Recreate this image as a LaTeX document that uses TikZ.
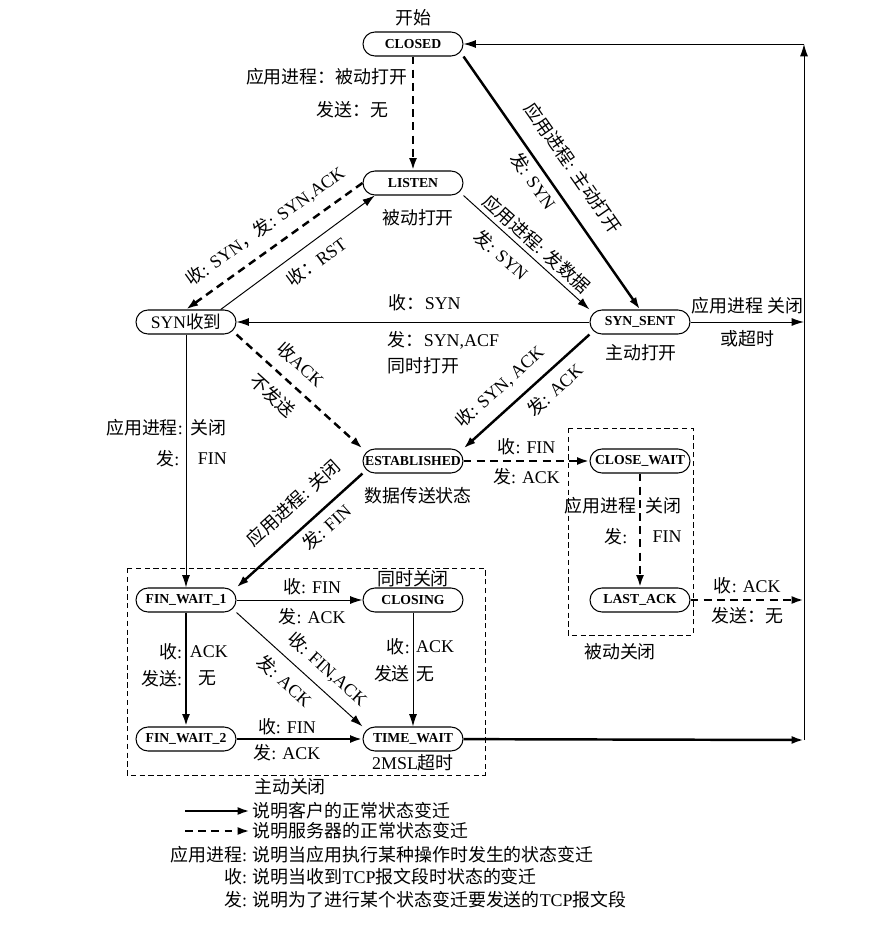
\documentclass[tikz,border=0pt]{standalone}
\usepackage{fontspec}
\setmainfont{Liberation Serif}
\newfontfamily\zhfont{Noto Sans CJK SC}
\newcommand{\zh}[1]{{\zhfont #1}}
\usetikzlibrary{positioning, arrows.meta}

\tikzset{
  statebox/.style={draw, line width=0.6pt, rounded corners=0.24cm, minimum width=2cm,
    minimum height=0.48cm, inner xsep=1pt, inner ysep=0pt,
    font=\fontsize{7.8}{9}\selectfont\bfseries},
  lbl/.style={font=\fontsize{10.2}{12}\selectfont, inner sep=1.5pt},
  tip/.style={-{Latex[length=7pt,width=4.5pt]}},
  client/.style={tip, line width=1.4pt},
  server/.style={client, dash pattern=on 4.5pt off 3pt},
  plain/.style={tip, line width=0.55pt},
  zone/.style={draw, line width=0.5pt, dash pattern=on 3pt off 2pt},
}

\begin{document}
\begin{tikzpicture}[on grid, node distance=2.78cm and 4.54cm]
\useasboundingbox (0,0) rectangle (17.5,-18.56);

% states
\node[statebox] (closed) at (8.26,-0.88) {CLOSED};
\node[statebox, below=of closed] (listen) {LISTEN};
\node[statebox, below left=of listen] (synrcvd) {\mdseries\fontsize{10}{12}\selectfont SYN\zh{收到}};
\node[statebox, below right=of listen] (synsent) {SYN\_SENT};
\node[statebox, below right=of synrcvd] (established) {ESTABLISHED};
\node[statebox, right=of established] (closewait) {CLOSE\_WAIT};
\node[statebox, below=of closewait] (lastack) {LAST\_ACK};
\node[statebox, below left=of established] (finwait1) {FIN\_WAIT\_1};
\node[statebox, right=of finwait1] (closing) {CLOSING};
\node[statebox, below=of finwait1] (finwait2) {FIN\_WAIT\_2};
\node[statebox, right=of finwait2] (timewait) {TIME\_WAIT};

\coordinate (rtop) at (16.08,-0.88);
\coordinate (rbot) at (16.08,-14.8);

% notes beside the states
\node[lbl] (start) at (8.26,-0.36) {\zh{开始}};
\node[lbl] (passopen) at (8.36,-4.36) {\zh{被动打开}};
\node[lbl] (actopen) at (12.82,-7.06) {\zh{主动打开}};
\node[lbl] (transfer) at (8.36,-9.92) {\zh{数据传送状态}};
\node[lbl] (simclose) at (8.26,-11.58) {\zh{同时关闭}};
\node[lbl] (msl) at (8.26,-15.26) {2MSL\zh{超时}};
\node[lbl] (passclose) at (12.4,-13.04) {\zh{被动关闭}};
\node[lbl] (actclose) at (5.8,-15.74) {\zh{主动关闭}};

% dashed zones
\draw[zone] (2.54,-11.36) rectangle (9.7,-15.5);
\draw[zone] (11.36,-8.56) rectangle (13.86,-12.7);

% transitions
\draw[server] (closed) -- node[lbl, pos=0.18, left=1pt] {\zh{应用进程：被动打开}}
  node[lbl, pos=0.47, left=12pt] {\zh{发送：无}} (listen);
\draw[client] (closed.south east) -- node[lbl, sloped, above=8pt] {\zh{应用进程}: \zh{主动打开}}
  node[lbl, sloped, pos=0.46, below=1pt] {\zh{发}: SYN} (synsent.north);
\draw[plain] (listen.south east) -- node[lbl, sloped, pos=0.51, above=1pt] {\zh{应用进程}: \zh{发数据}}
  node[lbl, sloped, pos=0.4, below=4pt] {\zh{发}: SYN} (synsent.north west);
\draw[server] (listen.west) -- node[lbl, sloped, pos=0.48, above=5pt] {\zh{收}: SYN\zh{，发}: SYN,ACK} (synrcvd.north);
\draw[plain] ([xshift=-9pt]synrcvd.north east) -- node[lbl, sloped, pos=0.55, below=4pt] {\zh{收：}RST}
  ([xshift=7pt]listen.south west);
\draw[plain] (synsent) -- (synrcvd);
\node[lbl, anchor=west] (rcvsyn) at (7.72,-6.06) {\zh{收：}SYN};
\node[lbl, anchor=west] (sndsynack) at (7.7,-6.8) {\zh{发：}SYN,ACF};
\node[lbl, anchor=west] (simopen) at (7.7,-7.32) {\zh{同时打开}};
\draw[server] (synrcvd.south east) -- node[lbl, sloped, pos=0.4, above=5pt] {\zh{收}ACK}
  node[lbl, sloped, pos=0.4, below=5pt] {\zh{不发送}} (established.north west);
\draw[client] (synsent.south west) -- node[lbl, sloped, pos=0.6, above=5pt] {\zh{收}: SYN, ACK}
  node[lbl, sloped, pos=0.37, below=3pt] {\zh{发}: ACK} (established.north east);
\draw[plain] (synrcvd) -- node[lbl, pos=0.37, left=0pt] {\zh{应用进程}:}
  node[lbl, pos=0.37, right=1pt] {\zh{关闭}}
  node[lbl, pos=0.49, left=2pt] {\zh{发}:}
  node[lbl, pos=0.49, right=5pt] {FIN} (finwait1);
\draw[client] (established.south west) -- node[lbl, sloped, pos=0.42, above=7pt] {\zh{应用进程}: \zh{关闭}}
  node[lbl, sloped, pos=0.37, below=2pt] {\zh{发}: FIN} (finwait1.north east);
\draw[server] (established) -- node[lbl, above=1pt] {\zh{收}: FIN} node[lbl, below=2pt] {\zh{发}: ACK} (closewait);
\draw[server] (closewait) -- node[lbl, pos=0.28, left=0pt] {\zh{应用进程}}
  node[lbl, pos=0.28, right=1pt] {\zh{关闭}}
  node[lbl, pos=0.55, left=5pt] {\zh{发}:}
  node[lbl, pos=0.55, right=5pt] {FIN} (lastack);
\draw[server] (lastack) -- node[lbl, above=1pt] {\zh{收}: ACK} node[lbl, below=2pt] {\zh{发送：无}} (lastack -| rtop);
\draw[plain] (synsent) -- node[lbl, above=3pt] {\zh{应用进程 关闭}} node[lbl, below=3pt] {\zh{或超时}} (synsent -| rtop);
\draw[plain] (finwait1) -- node[lbl, pos=0.6, above=1pt] {\zh{收}: FIN}
  node[lbl, pos=0.6, below=3pt] {\zh{发}: ACK} (closing);
\draw[plain] (finwait1.south east) -- node[lbl, sloped, pos=0.62, above=4pt] {\zh{收}: FIN,ACK}
  node[lbl, sloped, pos=0.48, below=4pt] {\zh{发}: ACK} (timewait.north west);
\draw[client] (finwait1) -- node[lbl, pos=0.34, left] {\zh{收}:} node[lbl, pos=0.34, right] {ACK}
  node[lbl, pos=0.58, left] {\zh{发送}:} node[lbl, pos=0.58, right=5pt] {\zh{无}} (finwait2);
\draw[plain] (closing) -- node[lbl, pos=0.3, left] {\zh{收}:} node[lbl, pos=0.3, right] {ACK}
  node[lbl, pos=0.54, left] {\zh{发送}} node[lbl, pos=0.54, right] {\zh{无}} (timewait);
\draw[client] (finwait2) -- node[lbl, pos=0.4, above=0pt] {\zh{收}: FIN}
  node[lbl, pos=0.4, below=1pt] {\zh{发}: ACK} (timewait);
\draw[client] (timewait) -- (rbot);
\draw[plain] (rbot) -- (rtop);
\draw[plain] (rtop) -- (closed);

% legend
\node[lbl, anchor=west] (lgclient) at (5.0,-16.22) {\zh{说明客户的正常状态变迁}};
\node[lbl, anchor=west] (lgserver) at (5.0,-16.62) {\zh{说明服务器的正常状态变迁}};
\node[lbl, anchor=west] (lgapp) at (5.0,-17.1) {\zh{说明当应用执行某种操作时发生的状态变迁}};
\node[lbl, anchor=west] (lgrcv) at (5.0,-17.54) {\zh{说明当收到}TCP\zh{报文段时状态的变迁}};
\node[lbl, anchor=west] (lgsnd) at (5.0,-18.0) {\zh{说明为了进行某个状态变迁要发送的}TCP\zh{报文段}};
\node[lbl, anchor=east] (keyapp) at (lgapp.west) {\zh{应用进程}:};
\node[lbl, anchor=east] (keyrcv) at (lgrcv.west) {\zh{收}:};
\node[lbl, anchor=east] (keysnd) at (lgsnd.west) {\zh{发}:};
\coordinate (lga) at (3.7,-16.22);
\coordinate (lgb) at (3.7,-16.62);
\draw[client] (lga) -- (lgclient.west);
\draw[server] (lgb) -- (lgserver.west);
\end{tikzpicture}
\end{document}
